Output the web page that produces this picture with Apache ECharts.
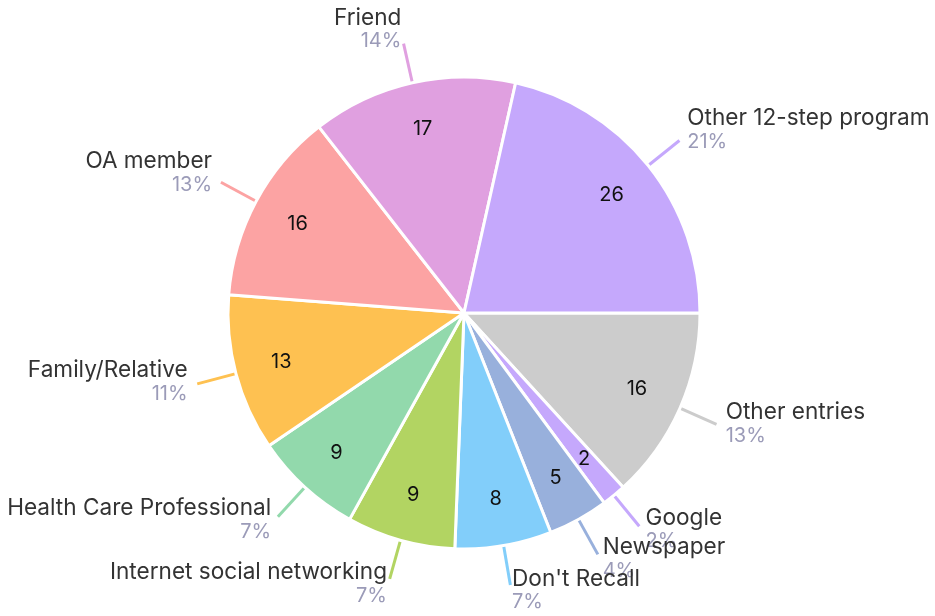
<!DOCTYPE html>
<html>
<head>
<meta charset="utf-8">
<script src="https://cdn.jsdelivr.net/npm/echarts@6/dist/echarts.min.js"></script>
<style>
html,body{margin:0;padding:0;background:#fff;}
#chart{width:935px;height:616px;}
</style>
</head>
<body>
<div id="chart"></div>
<script>
// Data (clockwise from 3 o'clock)
var categories = ["Other entries", "Google", "Newspaper", "Don't Recall", "Internet social networking", "Health Care Professional", "Family/Relative", "OA member", "Friend", "Other 12-step program"];
var values = [16, 2, 5, 8, 9, 9, 13, 16, 17, 26];
var colors = ["#cccccc", "#c5a8fc", "#98b0dc", "#82cefa", "#b2d462", "#92d9ac", "#fec151", "#fca3a3", "#e0a0e0", "#c5a8fc"];

var total = values.reduce(function(a,b){return a+b;},0);
var data = categories.map(function(c,i){
  return { name: c, value: values[i], itemStyle: { color: colors[i] }, labelLine: { lineStyle: { color: colors[i] } } };
});

var FONT = 'Inter';
var chart = echarts.init(document.getElementById('chart'));
chart.setOption({
  animation: false,
  series: [
    {
      type: 'pie',
      center: [464, 313],
      radius: 236,
      startAngle: 0,
      clockwise: true,
      avoidLabelOverlap: false,
      data: data,
      itemStyle: { borderColor: '#ffffff', borderWidth: 3 },
      emphasis: { disabled: true },
      label: {
        show: true,
        position: 'outside',
        distanceToLabelLine: 0,
        formatter: function(p){ return '{n|' + p.name + '}\n{p|' + Math.round(p.value/total*100) + '%}'; },
        rich: {
          n: { fontFamily: FONT, fontSize: 22.6, color: '#333333', lineHeight: 25 },
          p: { fontFamily: FONT, fontSize: 20, color: '#9b9bb8', lineHeight: 22 }
        }
      },
      labelLine: { show: true, length: 40, length2: 0, lineStyle: { width: 3 } },
      labelLayout: function(params){
        var pts = params.labelLinePoints;
        if (!pts) return {};
        var a = pts[0], b = pts[1];
        var dx = b[0]-a[0], dy = b[1]-a[1];
        var len = Math.sqrt(dx*dx+dy*dy) || 1;
        return { dx: 10*dx/len, dy: 10*dy/len - 5, labelLinePoints: pts, hideOverlap: false };
      }
    },
    {
      type: 'pie',
      center: [464, 313],
      radius: [136, 236],
      startAngle: 0,
      clockwise: true,
      silent: true,
      avoidLabelOverlap: false,
      data: categories.map(function(c,i){ return { name: c, value: values[i] }; }),
      itemStyle: { color: 'rgba(0,0,0,0)', borderWidth: 0 },
      label: {
        show: true,
        position: 'inside',
        formatter: '{c}',
        fontFamily: FONT,
        fontSize: 20,
        color: '#111111'
      },
      labelLine: { show: false }
    }
  ]
});
</script>
</body>
</html>
